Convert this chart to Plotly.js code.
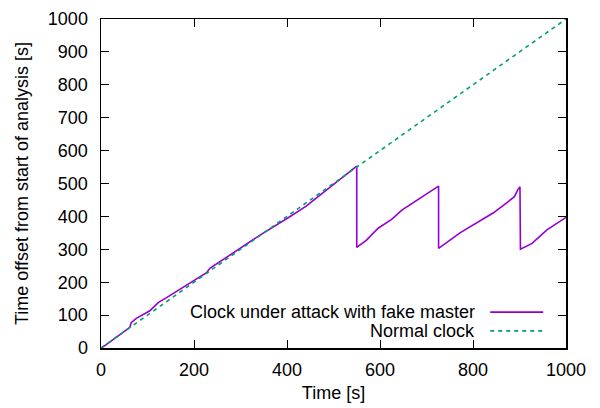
<!DOCTYPE html>
<html>
<head>
<meta charset="utf-8">
<script src="https://cdn.plot.ly/plotly-3.0.1.min.js"></script>
<style>html,body{margin:0;padding:0;background:#fff;}#chart{width:600px;height:408px;}</style>
</head>
<body>
<div id="chart"></div>
<script>
// Clock under attack with fake master
const attackTime = [0, 3, 40, 62, 65, 76, 105, 123, 141, 227, 234, 252, 342, 406, 442, 456, 514, 535, 550, 550, 571, 596, 625, 647, 726, 726, 772, 844, 873, 889, 896, 901, 902, 927, 959, 1000];
const attackOffset = [0, 2, 40, 63, 77, 90, 113, 138, 153, 229, 242, 259, 343, 399, 432, 448, 511, 536, 553, 306, 328, 364, 391, 419, 492, 303, 350, 411, 442, 460, 480, 490, 300, 318, 359, 397];
// Normal clock
const normalTime = [0, 1000];
const normalOffset = [0, 1000];

const seriesNames = ["Clock under attack with fake master", "Normal clock"];
const xTicks = [0, 200, 400, 600, 800, 1000];
const yTicks = [0, 100, 200, 300, 400, 500, 600, 700, 800, 900, 1000];

const purple = "#9400d3";
const green = "#009e73";
const font = "Liberation Sans, Arial, sans-serif";
const fs = 18;

const traces = [
  {x: attackTime, y: attackOffset, mode: "lines", name: seriesNames[0],
   line: {color: purple, width: 1.6}, showlegend: false},
  {x: normalTime, y: normalOffset, mode: "lines", name: seriesNames[1],
   line: {color: green, width: 1.6, dash: "4px,4px"}, showlegend: false}
];

const legX1 = 0.837, legX2 = 0.951, legTextX = 0.809;
const legY = [0.109, 0.052];

const layout = {
  width: 600, height: 408,
  margin: {l: 101, r: 34, t: 19, b: 60},
  paper_bgcolor: "#fff", plot_bgcolor: "#fff",
  font: {family: font, size: fs, color: "#000"},
  showlegend: false,
  xaxis: {
    range: [0, 1000], tickvals: xTicks, ticktext: xTicks.map(String),
    ticks: "inside", ticklen: 8, tickwidth: 1, tickcolor: "#000",
    showline: true, linecolor: "#000", linewidth: 1.5, mirror: "ticks",
    showgrid: false, zeroline: false, ticklabelstandoff: 5,
    tickfont: {size: fs},
    title: {text: "Time [s]", font: {size: fs}, standoff: 7}
  },
  yaxis: {
    range: [0, 1000], tickvals: yTicks, ticktext: yTicks.map(String),
    ticks: "inside", ticklen: 8, tickwidth: 1, tickcolor: "#000",
    showline: true, linecolor: "#000", linewidth: 1.5, mirror: "ticks",
    showgrid: false, zeroline: false, ticklabelstandoff: 8,
    tickfont: {size: fs},
    title: {text: "Time offset from start of analysis [s]", font: {size: fs}, standoff: 14}
  },
  annotations: seriesNames.map((n, i) => ({
    xref: "paper", yref: "paper", x: legTextX, y: legY[i],
    text: n, showarrow: false, xanchor: "right", yanchor: "middle",
    font: {size: fs, color: "#000"}
  })),
  shapes: [
    {type: "line", xref: "paper", yref: "paper", x0: legX1, x1: legX2, y0: legY[0], y1: legY[0],
     line: {color: purple, width: 1.6}},
    {type: "line", xref: "paper", yref: "paper", x0: legX1, x1: legX2, y0: legY[1], y1: legY[1],
     line: {color: green, width: 1.6, dash: "4px,4px"}}
  ]
};

Plotly.newPlot("chart", traces, layout, {displayModeBar: false, staticPlot: true});
</script>
</body>
</html>
